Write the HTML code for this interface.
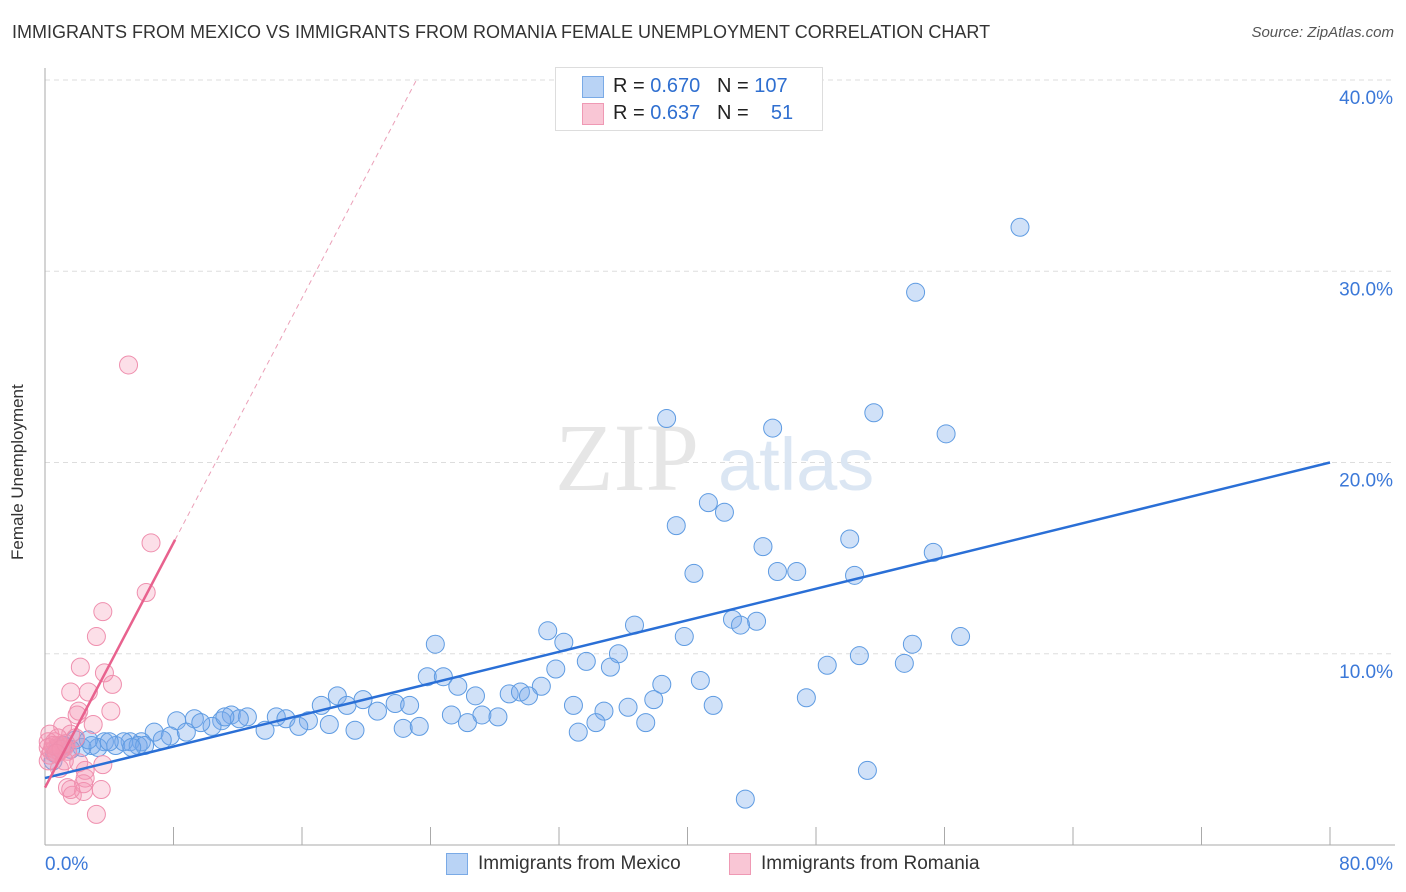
<!DOCTYPE html>
<html><head><meta charset="utf-8"><style>
body{margin:0;background:#fff;font-family:"Liberation Sans",sans-serif;}
#wrap{position:relative;width:1406px;height:892px;overflow:hidden;}
.t{position:absolute;white-space:nowrap;}
</style></head><body>
<div id="wrap">
<div class="t" style="left:12px;top:22px;font-size:18px;color:#333;">IMMIGRANTS FROM MEXICO VS IMMIGRANTS FROM ROMANIA FEMALE UNEMPLOYMENT CORRELATION CHART</div>
<div class="t" style="right:12px;top:24px;font-size:15px;color:#555;font-style:italic;">Source: ZipAtlas.com</div>
<div class="t" style="left:8px;top:560px;font-size:17px;color:#333;transform:rotate(-90deg);transform-origin:left top;">Female Unemployment</div>
<svg id="svg" width="1406" height="892" style="position:absolute;left:0;top:0"></svg>
<div class="t" style="left:555px;top:67px;width:266px;height:62px;border:1px solid #ddd;background:#fff;">
 <div style="position:absolute;left:26px;top:8px;width:20px;height:20px;background:#b9d3f5;border:1px solid #7aaae6;"></div>
 <div style="position:absolute;left:26px;top:35px;width:20px;height:20px;background:#f9c6d5;border:1px solid #ef99b4;"></div>
 <div style="position:absolute;left:57px;top:7px;font-size:20px;color:#222;">R = <span style="color:#2f6fd0">0.670</span>&nbsp;&nbsp;&nbsp;N = <span style="color:#2f6fd0">107</span></div>
 <div style="position:absolute;left:57px;top:34px;font-size:20px;color:#222;">R = <span style="color:#2f6fd0">0.637</span>&nbsp;&nbsp;&nbsp;N = &nbsp;&nbsp;&nbsp;<span style="color:#2f6fd0">51</span></div>
</div>
<div class="t" style="left:446px;top:853px;width:20px;height:20px;background:#b9d3f5;border:1px solid #7aaae6;"></div>
<div class="t" style="left:478px;top:853px;font-size:19px;color:#333;">Immigrants from Mexico</div>
<div class="t" style="left:729px;top:853px;width:20px;height:20px;background:#f9c6d5;border:1px solid #ef99b4;"></div>
<div class="t" style="left:761px;top:853px;font-size:19px;color:#333;">Immigrants from Romania</div>
</div>
<script>
const xTicksPct=[0,80];
const yTicks=[10,20,30,40];
const mexX=[60.7,54.2,51.6,38.7,45.3,56.1,41.3,42.3,39.3,50.1,44.7,55.3,40.4,45.6,46.8,50.4,31.3,32.3,24.3,36.7,42.8,44.3,43.3,39.8,57.0,54.0,35.7,33.7,31.8,35.2,48.7,50.7,53.5,23.8,24.8,25.7,38.4,40.8,30.9,26.8,28.9,29.6,30.1,18.2,19.8,17.2,18.8,21.8,22.7,37.9,32.9,36.3,41.6,47.4,20.7,11.6,12.6,14.4,15.0,8.2,9.3,11.0,16.4,25.3,27.2,28.2,34.8,34.3,37.4,10.4,9.7,13.7,15.8,17.7,19.3,22.3,23.3,26.3,33.2,6.8,7.8,8.8,7.3,6.0,5.3,3.7,4.4,4.9,5.8,6.2,2.9,3.3,2.3,1.9,1.2,0.8,1.6,0.6,1.1,0.5,51.2,43.6,12.1,5.4,2.7,4.0,11.2];
const mexY=[32.3,28.9,22.6,22.3,21.8,21.5,17.9,17.4,16.7,16.0,15.6,15.3,14.2,14.3,14.3,14.1,11.2,10.6,10.5,11.5,11.8,11.7,11.5,10.9,10.9,10.5,10.0,9.6,9.2,9.3,9.4,9.9,9.5,8.8,8.8,8.3,8.4,8.6,8.3,7.8,7.9,8.0,7.8,7.8,7.6,7.3,7.3,7.4,7.3,7.6,7.3,7.2,7.3,7.7,7.0,6.8,6.7,6.7,6.6,6.5,6.6,6.5,6.5,6.8,6.8,6.7,7.0,6.4,6.4,6.2,6.4,6.0,6.2,6.3,6.0,6.1,6.2,6.4,5.9,5.9,5.7,5.9,5.5,5.4,5.4,5.4,5.2,5.4,5.2,5.2,5.2,5.1,5.1,5.5,5.2,5.1,5.0,4.8,5.2,4.4,3.9,2.4,6.6,5.1,5.5,5.4,6.7];
const romX=[5.2,6.6,6.3,3.6,3.2,2.2,3.7,4.2,1.6,2.7,2.1,2.0,4.1,3.0,1.1,1.6,1.9,0.3,0.2,0.6,0.8,0.4,0.9,1.2,1.0,1.4,0.6,0.3,0.2,2.5,0.9,2.1,3.6,2.5,1.4,1.7,2.4,3.5,2.4,3.2,1.6,0.2,1.2,0.8,0.5,1.0,1.3,0.7];
const romY=[25.1,15.8,13.2,12.2,10.9,9.3,9.0,8.4,8.0,8.0,7.0,6.8,7.0,6.3,6.2,5.8,5.6,5.8,5.4,5.0,5.2,4.9,4.9,5.1,5.2,4.9,5.4,4.7,5.1,3.9,4.0,4.3,4.2,3.5,3.0,2.6,2.8,2.9,3.2,1.6,2.9,4.4,4.4,5.6,5.2,5.0,5.3,4.8];
const mexLine=[3.5,20.0];
const romLine=[3.0,1.6];
const X0=45,X1=1330,Y0=845,Y1=80;
const sx=v=>X0+(v/80)*(X1-X0);
const sy=v=>Y0-(v/40)*(Y0-Y1);
const svg=document.getElementById('svg');
const NS='http://www.w3.org/2000/svg';
function mk(t,a,name){const e=document.createElementNS(NS,t);for(const k in a)e.setAttribute(k,a[k]);


svg.appendChild(e);return e;}
yTicks.forEach(v=>{mk('line',{x1:X0,x2:1395,y1:sy(v),y2:sy(v),stroke:'#ddd','stroke-dasharray':'5,4'},'gridline-'+v);
const t=mk('text',{x:1393,y:sy(v)+24,'text-anchor':'end','font-size':19,fill:'#3b78d8','font-family':'Liberation Sans'},'y-tick-'+v);t.textContent=v.toFixed(1)+'%';});
mk('line',{x1:X0,x2:X0,y1:68,y2:Y0,stroke:'#aaa'},'y-axis');
mk('line',{x1:X0,x2:1395,y1:Y0,y2:Y0,stroke:'#aaa'},'x-axis');
for(let i=1;i<=10;i++){const x=sx(i*8);mk('line',{x1:x,x2:x,y1:827,y2:Y0,stroke:'#aaa'},'x-tick');}
xTicksPct.forEach(v=>{const t=mk('text',{x:v==0?45:1393,y:870,'text-anchor':v==0?'start':'end','font-size':19,fill:'#3b78d8','font-family':'Liberation Sans'},'x-tick-label');t.textContent=v.toFixed(1)+'%';});
const w1=mk('text',{x:555,y:490,'font-size':96,fill:'#e6e6e6','font-family':'Liberation Serif'},'watermark-zip');w1.textContent='ZIP';
const w2=mk('text',{x:718,y:490,'font-size':74,fill:'#dbe6f3','font-family':'Liberation Sans'},'watermark-atlas');w2.textContent='atlas';
mexX.forEach((x,i)=>mk('circle',{cx:sx(x),cy:sy(mexY[i]),r:9,fill:'rgba(120,170,235,0.35)',stroke:'#5e9be2','stroke-width':1},'mexico-point'));
romX.forEach((x,i)=>mk('circle',{cx:sx(x),cy:sy(romY[i]),r:9,fill:'rgba(244,150,180,0.3)',stroke:'#ef8fae','stroke-width':1},'romania-point'));
mk('line',{x1:sx(0),y1:sy(mexLine[0]),x2:sx(80),y2:sy(mexLine[1]),stroke:'#2a6fd6','stroke-width':2.5},'mexico-trendline');
const rx1=8.1,rx2=(40-romLine[0])/romLine[1];
mk('line',{x1:sx(0),y1:sy(romLine[0]),x2:sx(rx1),y2:sy(romLine[0]+romLine[1]*rx1),stroke:'#e8628e','stroke-width':2.5},'romania-trendline');
mk('line',{x1:sx(rx1),y1:sy(romLine[0]+romLine[1]*rx1),x2:sx(rx2),y2:sy(40),stroke:'#eba0b8','stroke-width':1,'stroke-dasharray':'5,4'},'romania-trendline-extension');
</script>
</body></html>
